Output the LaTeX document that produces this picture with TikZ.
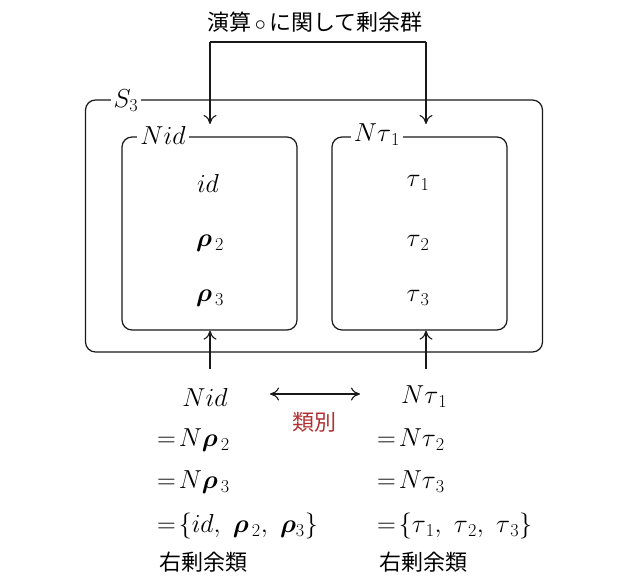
\documentclass[tikz,border=0pt]{standalone}
\usepackage{fix-cm}
\usepackage{amsmath}
\usepackage{bm}
\usepackage{fontspec}
\newfontfamily\jp{Noto Sans CJK JP}
\usetikzlibrary{arrows.meta}
\definecolor{lblred}{RGB}{178,48,48}
\definecolor{ink}{RGB}{25,25,25}
\begin{document}
\begin{tikzpicture}[x=1pt,y=-1pt,
  frame/.style={draw=ink, line width=1.2pt, rounded corners=10pt},
  arr/.style={draw=ink, line width=1.1pt, -{To[length=9pt,width=13pt]}},
  darr/.style={draw=ink, line width=1.1pt, {To[length=9pt,width=13pt]}-{To[length=9pt,width=13pt]}},
  lbl/.style={fill=white, inner sep=3pt, font=\fontsize{26}{30}\selectfont},
  mth/.style={inner sep=0pt, font=\fontsize{26}{30}\selectfont},
  jtxt/.style={inner sep=0pt, font=\jp\fontsize{22}{26}\selectfont}]
\useasboundingbox (0,0) rectangle (627,578);
% title and bracket
\node[jtxt] (title) at (315,22) {演算\,$\circ$\,に関して剰余群};
\coordinate (bl) at (210,42);
\coordinate (br) at (426,42);
\coordinate (el) at (210,124);
\coordinate (er) at (426,124);
\draw[draw=ink, line width=1.1pt] (bl) -- (br);
\draw[arr] (bl) -- (el);
\draw[arr] (br) -- (er);
% boxes
\node[frame, minimum width=457pt, minimum height=252pt] (S) at (314,226) {};
\node[frame, minimum width=175pt, minimum height=193pt] (A) at (209.5,233.5) {};
\node[frame, minimum width=175pt, minimum height=193pt] (B) at (419.5,233.5) {};
\node[lbl] (Slbl) at (126,101) {$S_3$};
\node[lbl] (Albl) at (163,135) {$Nid$};
\node[lbl] (Blbl) at (377,135) {$N\tau_{\,1}$};
% contents
\node[mth] (a1) at (208,183) {$id$};
\node[mth] (a2) at (210,243) {$\bm{\rho}_{\,2}$};
\node[mth] (a3) at (210,298) {$\bm{\rho}_{\,3}$};
\node[mth] (b1) at (418,183) {$\tau_{\,1}$};
\node[mth] (b2) at (418,243) {$\tau_{\,2}$};
\node[mth] (b3) at (418,298) {$\tau_{\,3}$};
% lower text
\node[mth] (L0) at (205,397) {$Nid$};
\node[mth, anchor=west] (R0) at (401,397) {$N\tau_{\,1}$};
\coordinate (ua) at (210,369);
\coordinate (ub) at (426,369);
\draw[arr] (ua) -- (ua |- A.south);
\draw[arr] (ub) -- (ub |- B.south);
\coordinate (dl) at (270,394);
\coordinate (dr) at (360,394);
\draw[darr] (dl) -- (dr);
\node[jtxt, text=lblred] (cls) at (314,422) {類別};
\node[mth, anchor=west] (L1) at (157,440) {$=\!N\bm{\rho}_{\,2}$};
\node[mth, anchor=west] (L2) at (157,482) {$=\!N\bm{\rho}_{\,3}$};
\node[mth, anchor=west] (L3) at (157,526) {$=\!\{id,\ \bm{\rho}_{\,2},\ \bm{\rho}_{3}\}$};
\node[jtxt, anchor=west] (L4) at (159,562) {右剰余類};
\node[mth, anchor=west] (R1) at (377,440) {$=\!N\tau_{\,2}$};
\node[mth, anchor=west] (R2) at (377,482) {$=\!N\tau_{\,3}$};
\node[mth, anchor=west] (R3) at (377,526) {$=\!\{\tau_{\,1},\ \tau_{\,2},\ \tau_{\,3}\}$};
\node[jtxt, anchor=west] (R4) at (379,562) {右剰余類};
\end{tikzpicture}
\end{document}
